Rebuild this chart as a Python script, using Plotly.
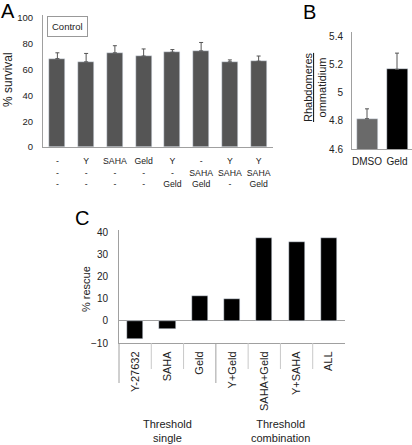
import plotly.graph_objects as go

W, H = 412, 445

# ---- Panel A data ----
a_row1 = ["-", "Y", "SAHA", "Geld", "Y", "-", "Y", "Y"]
a_row2 = ["-", "-", "-", "-", "-", "SAHA", "SAHA", "SAHA"]
a_row3 = ["-", "-", "-", "-", "Geld", "Geld", "-", "Geld"]
a_survival = [68.5, 66, 73, 70.5, 73.5, 74.5, 66, 66.5]
a_err = [4.5, 6.5, 5.5, 5.5, 2, 6.5, 1.5, 4]
a_yticks = [0, 20, 40, 60, 80, 100]

# ---- Panel B data ----
b_cats = ["DMSO", "Geld"]
b_vals = [4.815, 5.165]
b_err = [0.07, 0.115]
b_colors = ["#6a6a6a", "#000000"]
b_yticks = [4.6, 4.8, 5.0, 5.2, 5.4]
b_yticktext = ["4.6", "4.8", "5", "5.2", "5.4"]

# ---- Panel C data ----
c_cats = ["Y-27632", "SAHA", "Geld", "Y+Geld", "SAHA+Geld", "Y+SAHA", "ALL"]
c_rescue = [-8.3, -3.7, 11.2, 10.0, 37.3, 35.5, 37.3]
c_yticks = [-10, 0, 10, 20, 30, 40]
c_groups = ["Threshold<br>single", "Threshold<br>combination"]
c_group_pos = [1, 4.5]

FONT = "Arial, Liberation Sans, sans-serif"
AXC = "#a0a0a0"
TXT = "#222222"

def px_x(p):
    return p / W

def px_y(p):
    return 1 - p / H

fig = go.Figure()

# Panel A bars
a_x = list(range(len(a_survival)))
fig.add_trace(go.Bar(
    x=a_x, y=a_survival, marker_color="#555555", width=0.56,
    error_y=dict(type="data", symmetric=False, array=a_err,
                 arrayminus=[0] * len(a_err), color="#555555",
                 thickness=1, width=2),
    xaxis="x", yaxis="y", showlegend=False))

# Panel B bars
fig.add_trace(go.Bar(
    x=list(range(len(b_vals))), y=b_vals, marker_color=b_colors, width=0.7,
    error_y=dict(type="data", symmetric=False, array=b_err,
                 arrayminus=[0] * len(b_err), color="#555555",
                 thickness=1, width=2),
    xaxis="x2", yaxis="y2", showlegend=False))

# Panel C bars
fig.add_trace(go.Bar(
    x=list(range(len(c_rescue))), y=c_rescue, marker_color="#000000",
    width=0.5, xaxis="x3", yaxis="y3", showlegend=False))

a_ticktext = [f"{r1}<br>{r2}<br>{r3}" for r1, r2, r3 in zip(a_row1, a_row2, a_row3)]

fig.update_layout(
    width=W, height=H, margin=dict(l=0, r=0, t=0, b=0, autoexpand=False),
    paper_bgcolor="white", plot_bgcolor="white",
    font=dict(family=FONT, size=10, color=TXT),
    bargap=0,
    xaxis=dict(domain=[px_x(43), px_x(273)], range=[-0.5, 7.5],
               tickvals=a_x, ticktext=a_ticktext, showline=True,
               linecolor=AXC, linewidth=1, showgrid=False, zeroline=False,
               ticks="outside", ticklen=6, tickcolor="rgba(0,0,0,0)",
               tickfont=dict(size=8.7), anchor="y"),
    yaxis=dict(domain=[px_y(147), px_y(15)], range=[0, 102.3],
               tickvals=a_yticks, showline=True, linecolor=AXC,
               showgrid=False, zeroline=False, ticks="outside", ticklen=7,
               tickcolor="rgba(0,0,0,0)", tickfont=dict(size=9.5),
               anchor="x"),
    xaxis2=dict(domain=[px_x(352), px_x(412)], range=[-0.5, 1.5],
                tickvals=[0, 1], ticktext=b_cats, showline=True,
                linecolor=AXC, showgrid=False, zeroline=False,
                ticks="outside", ticklen=3, tickcolor="rgba(0,0,0,0)",
                tickfont=dict(size=10), anchor="y2"),
    yaxis2=dict(domain=[px_y(149), px_y(32)], range=[4.6, 5.43],
                tickvals=b_yticks, ticktext=b_yticktext, showline=True,
                linecolor=AXC, showgrid=False, zeroline=False,
                ticks="outside", ticklen=6, tickcolor="rgba(0,0,0,0)",
                tickfont=dict(size=10), anchor="x2"),
    xaxis3=dict(domain=[px_x(119), px_x(345)], range=[-0.5, 6.5],
                tickvals=list(range(len(c_cats))), ticktext=c_cats,
                tickangle=-90, showline=True, linecolor=AXC,
                showgrid=False, zeroline=False, ticks="outside", ticklen=3,
                tickcolor="rgba(0,0,0,0)", tickfont=dict(size=11),
                anchor="y3"),
    yaxis3=dict(domain=[px_y(343), px_y(230)], range=[-10, 40.9],
                tickvals=c_yticks, showline=True, linecolor=AXC,
                showgrid=False, zeroline=True, zerolinecolor=AXC,
                zerolinewidth=1, ticks="outside", ticklen=8,
                tickcolor="rgba(0,0,0,0)", tickfont=dict(size=10),
                anchor="x3"),
)

shapes = []
# category separators for panel C
for i in range(len(c_cats) - 1):
    bottom = 383 if i == 2 else 369
    shapes.append(dict(type="line", xref="x3", yref="paper",
                       x0=i + 0.5, x1=i + 0.5, y0=px_y(343), y1=px_y(bottom),
                       line=dict(color="#c8c8c8" if i != 2 else AXC, width=1)))
# left axis extension below panel C
shapes.append(dict(type="line", xref="paper", yref="paper",
                   x0=px_x(119), x1=px_x(119), y0=px_y(343), y1=px_y(383),
                   line=dict(color=AXC, width=1)))
fig.update_layout(shapes=shapes)

ann = []
# panel letters
ann.append(dict(text="A", x=px_x(-1), y=px_y(-2), xref="paper", yref="paper",
                xanchor="left", yanchor="top", showarrow=False,
                font=dict(size=20, color="#000")))
ann.append(dict(text="B", x=px_x(301), y=px_y(-1), xref="paper", yref="paper",
                xanchor="left", yanchor="top", showarrow=False,
                font=dict(size=20, color="#000")))
ann.append(dict(text="C", x=px_x(73), y=px_y(205), xref="paper", yref="paper",
                xanchor="left", yanchor="top", showarrow=False,
                font=dict(size=20, color="#000")))
# legend box "Control"
ann.append(dict(text="Control", x=px_x(47), y=px_y(16), xref="paper",
                yref="paper", xanchor="left", yanchor="top", showarrow=False,
                bordercolor="#999999", borderwidth=1, borderpad=4,
                font=dict(size=9.5, color=TXT)))
# axis titles
ann.append(dict(text="% survival", x=px_x(8), y=px_y(80), xref="paper",
                yref="paper", textangle=-90, showarrow=False,
                xanchor="center", yanchor="middle",
                font=dict(size=12, color=TXT)))
ann.append(dict(text="<u>Rhabdomeres</u><br>ommatidium", x=px_x(315),
                y=px_y(87), xref="paper", yref="paper", textangle=-90,
                showarrow=False, xanchor="center", yanchor="middle",
                font=dict(size=11, color=TXT)))
ann.append(dict(text="% rescue", x=px_x(86), y=px_y(289), xref="paper",
                yref="paper", textangle=-90, showarrow=False,
                xanchor="center", yanchor="middle",
                font=dict(size=11, color=TXT)))
# group labels for panel C
for g, pos in zip(c_groups, c_group_pos):
    ann.append(dict(text=g, x=pos, y=px_y(431), xref="x3", yref="paper",
                    showarrow=False, xanchor="center", yanchor="middle",
                    font=dict(size=11, color=TXT)))
fig.update_layout(annotations=ann)

fig.write_html("out.html", config={"displayModeBar": False},
               post_script="document.body.style.margin='0';document.body.style.overflow='hidden';")
